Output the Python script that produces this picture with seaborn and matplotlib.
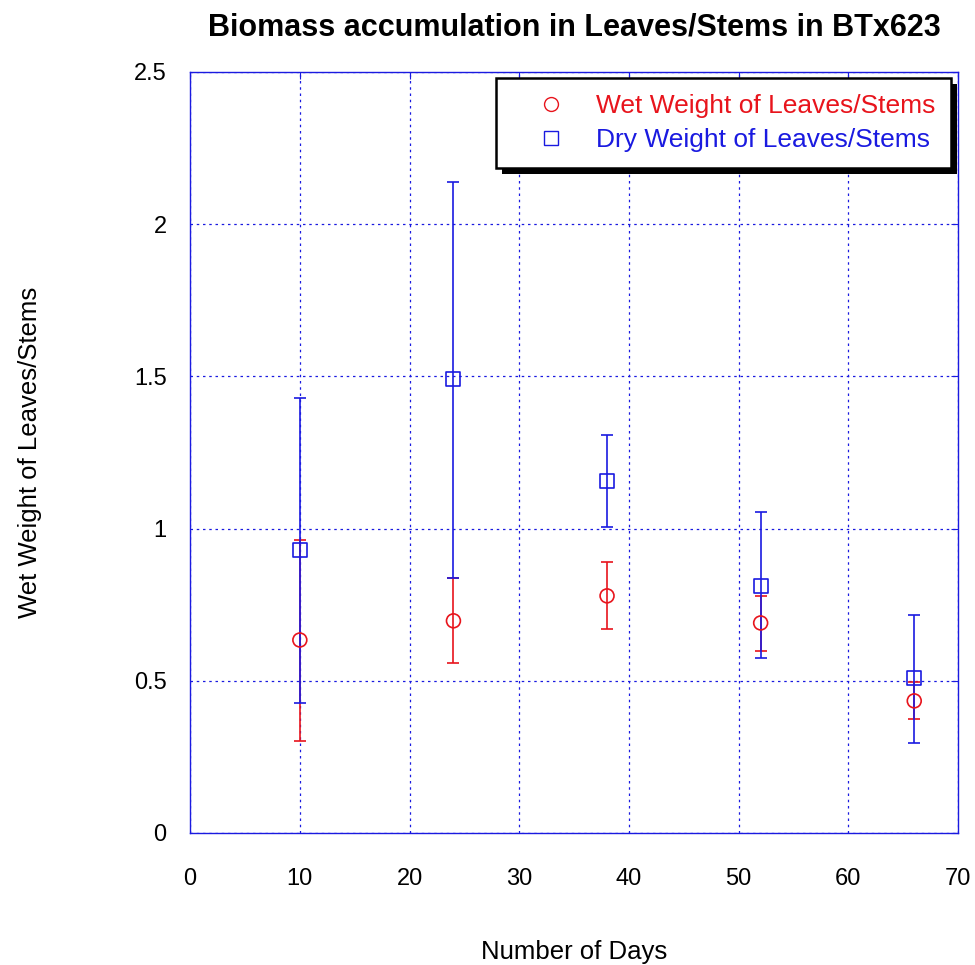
import matplotlib
matplotlib.use("Agg")
import matplotlib.pyplot as plt
import matplotlib.patheffects as pe
import seaborn as sns
import pandas as pd
import numpy as np
from matplotlib.lines import Line2D

days = [10, 24, 38, 52, 66]
wet_mean = [0.634, 0.697, 0.779, 0.690, 0.434]
wet_low = [0.302, 0.558, 0.670, 0.598, 0.375]
wet_high = [0.963, 0.838, 0.890, 0.779, 0.496]
dry_mean = [0.930, 1.491, 1.156, 0.812, 0.509]
dry_low = [0.427, 0.838, 1.005, 0.575, 0.296]
dry_high = [1.430, 2.139, 1.307, 1.054, 0.716]

wet_label = "Wet Weight of Leaves/Stems"
dry_label = "Dry Weight of Leaves/Stems"

sns.set_style("white")
plt.rcParams['font.family'] = ['Liberation Sans', 'DejaVu Sans']
plt.rcParams['text.color'] = 'black'
plt.rcParams['axes.labelcolor'] = 'black'

fig = plt.figure(figsize=(9.75, 9.65), dpi=100)
ax = fig.add_axes([0.195, 0.1368, 0.7877, 0.7886])

df = pd.DataFrame({
    "day": days * 2,
    "value": wet_mean + dry_mean,
    "series": [wet_label] * 5 + [dry_label] * 5,
})

red = "#e8141c"
blue = "#1a1ae0"

ax.errorbar(days, wet_mean,
            yerr=[np.subtract(wet_mean, wet_low), np.subtract(wet_high, wet_mean)],
            fmt='none', ecolor=red, elinewidth=1.2, capsize=4.5, capthick=1.2, zorder=3)
ax.errorbar(days, dry_mean,
            yerr=[np.subtract(dry_mean, dry_low), np.subtract(dry_high, dry_mean)],
            fmt='none', ecolor=blue, elinewidth=1.2, capsize=4.5, capthick=1.2, zorder=3)

sns.scatterplot(data=df, x="day", y="value", hue="series", style="series",
                palette={wet_label: red, dry_label: blue},
                markers={wet_label: 'o', dry_label: 's'},
                s=100, linewidth=1.2, ax=ax, zorder=4, legend=False)
for coll in ax.collections:
    fc = coll.get_facecolors()
    if len(fc):
        coll.set_edgecolors(fc)
        coll.set_facecolors('none')

ax.set_xlim(0, 70)
ax.set_ylim(0, 2.5)
ax.set_xticks(np.arange(0, 71, 10))
ax.set_yticks([0, 0.5, 1, 1.5, 2, 2.5])
ax.set_yticklabels(["0", "0.5", "1", "1.5", "2", "2.5"])
ax.grid(True, color=blue, linestyle=(0, (2, 3)), linewidth=0.9)
for sp in ax.spines.values():
    sp.set_color(blue)
    sp.set_linewidth(1.0)
ax.tick_params(axis='both', direction='in', color=blue, length=5, labelsize=17,
               labelcolor='black', top=True, right=True)
ax.tick_params(axis='x', pad=25)
ax.tick_params(axis='y', pad=17)

ax.set_xlabel("Number of Days", fontsize=18.5, labelpad=36)
ax.set_ylabel("Wet Weight of Leaves/Stems", fontsize=18.5, labelpad=66)
ax.set_title("Biomass accumulation in Leaves/Stems in BTx623", fontsize=22,
             fontweight='bold', pad=26, color='black')

handles = [
    Line2D([], [], marker='o', linestyle='none', markerfacecolor='none',
           markeredgecolor=red, markersize=10, markeredgewidth=1.0),
    Line2D([], [], marker='s', linestyle='none', markerfacecolor='none',
           markeredgecolor=blue, markersize=10, markeredgewidth=1.0),
]
leg = ax.legend(handles, [wet_label, dry_label], loc='upper right',
                bbox_to_anchor=(0.991, 0.992), fontsize=19, frameon=True,
                fancybox=False, framealpha=1, edgecolor='black',
                shadow=False, handletextpad=0.2,
                borderpad=0.6, labelspacing=0.4, handlelength=3.0,
                borderaxespad=0.0)
frame = leg.get_frame()
frame.set_linewidth(1.8)
frame.set_path_effects([
    pe.SimplePatchShadow(offset=(4.3, -4.3), shadow_rgbFace='black', alpha=1),
    pe.Normal(),
])
for t, c in zip(leg.get_texts(), [red, blue]):
    t.set_color(c)

fig.savefig("out.png", dpi=100)
